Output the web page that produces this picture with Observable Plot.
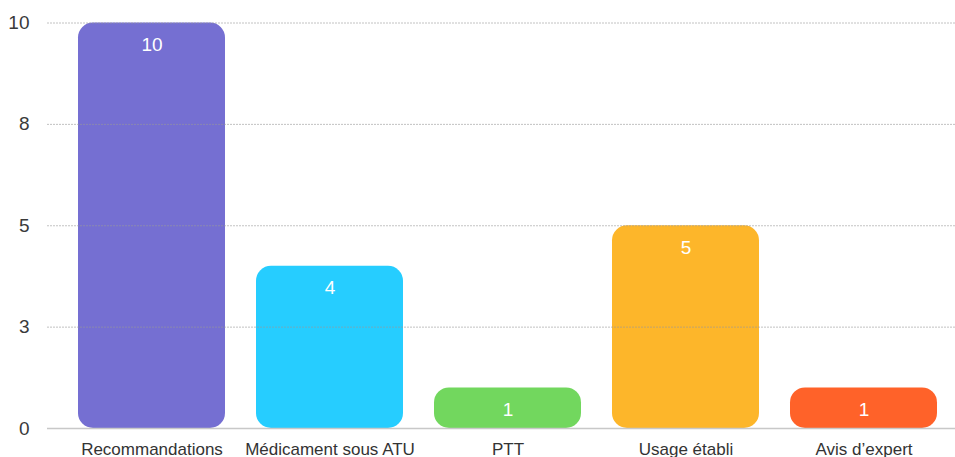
<!DOCTYPE html>
<html>
<head>
<meta charset="utf-8">
<script src="https://cdn.jsdelivr.net/npm/d3@7"></script>
<script src="https://cdn.jsdelivr.net/npm/@observablehq/plot@0.6"></script>
<style>
  html, body { margin: 0; padding: 0; background: #fff; }
  #chart svg { display: block; }
</style>
</head>
<body>
<div id="chart"></div>
<script>
const categories = ["Recommandations", "Médicament sous ATU", "PTT", "Usage établi", "Avis d’expert"];
const values = [10, 4, 1, 5, 1];
const colors = ["#756FD2", "#26CDFF", "#72D75E", "#FDB62A", "#FF6229"];
const yTicks = [0, 2.5, 5, 7.5, 10];

const data = categories.map((c, i) => ({category: c, value: values[i], color: colors[i]}));

const chart = Plot.plot({
  width: 955,
  height: 457,
  marginLeft: 47,
  marginRight: 0,
  marginTop: 22.5,
  marginBottom: 29,
  style: {fontFamily: "'Liberation Sans', Arial, sans-serif", background: "#fff", overflow: "visible"},
  x: {domain: categories, range: [77.5, 938], paddingInner: 0.1725, paddingOuter: 0, label: null},
  y: {domain: [0, 10], label: null},
  marks: [
    Plot.barY(data, {x: "category", y: "value", fill: "color", rx: 15}),
    Plot.ruleY(yTicks.filter(d => d > 0), {stroke: "#999", strokeOpacity: 0.6, strokeDasharray: "2,1", strokeWidth: 1}),
    Plot.ruleY([0], {stroke: "#c8c8c8", strokeWidth: 1.5}),
    Plot.text(data, {x: "category", y: "value", text: d => String(d.value), dy: 22, fill: "white", fontSize: 19}),
    Plot.axisY({ticks: yTicks, tickFormat: d => String(Math.round(d)), tickSize: 0, tickPadding: 18, fontSize: 19, fill: "#3a3a3a", label: null}),
    Plot.axisX({tickSize: 0, tickPadding: 14, fontSize: 17, fill: "#333", label: null})
  ]
});
document.getElementById("chart").appendChild(chart);
</script>
</body>
</html>
